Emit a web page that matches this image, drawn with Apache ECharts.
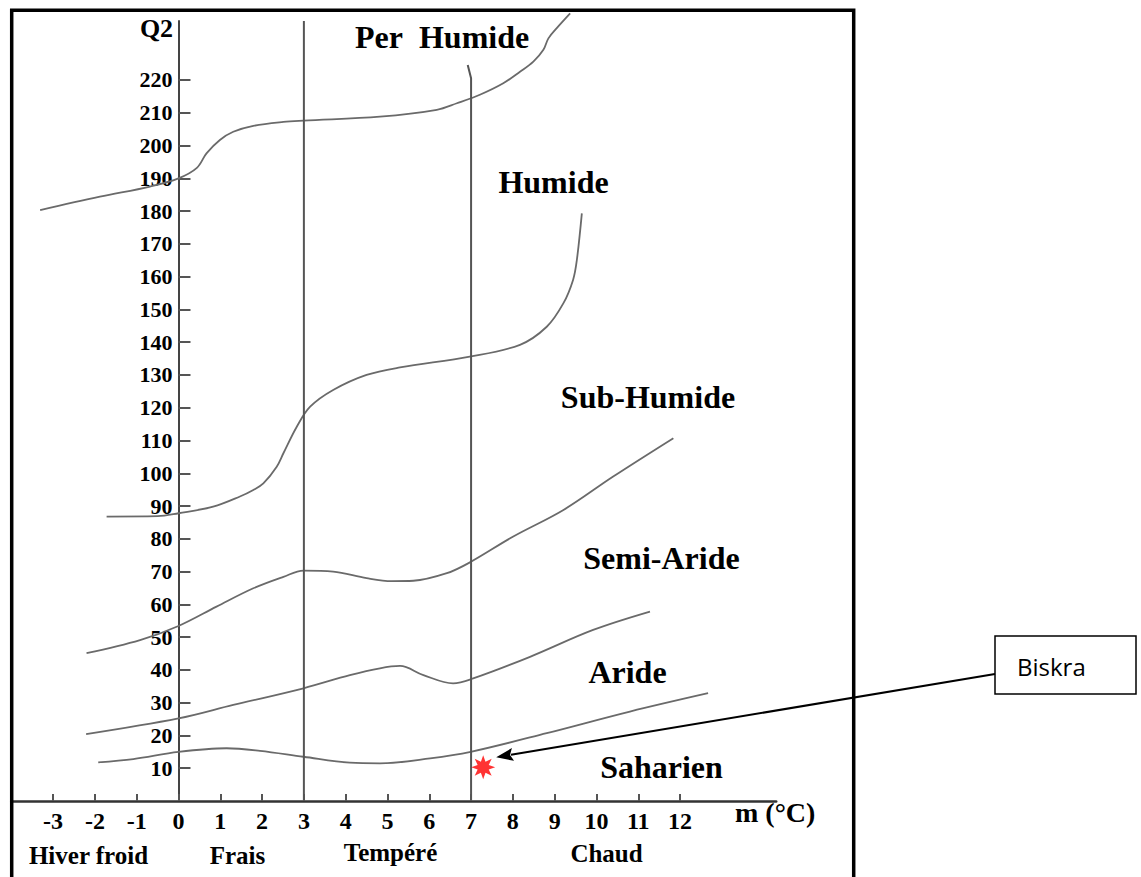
<!DOCTYPE html>
<html><head><meta charset="utf-8">
<script src="https://cdn.jsdelivr.net/npm/echarts@6/dist/echarts.min.js"></script>
<style>html,body{margin:0;padding:0;background:#fff}#c{width:1141px;height:877px}</style>
</head><body><div id="c"></div>
<script>
// ---- data (m in °C, Q2) ----
const xTicks = [-3,-2,-1,0,1,2,3,4,5,6,7,8,9,10,11,12];
const yTicks = [10,20,30,40,50,60,70,80,90,100,110,120,130,140,150,160,170,180,190,200,210,220];
const limitPerHumide = [[-3.31,180.3],[-1.88,184.4],[-0.68,187.5],[0,190],[0.44,193.2],[0.67,197.6],[0.99,201.7],[1.31,204.2],[1.79,206],[2.51,207.2],[2.99,207.6],[4.82,208.8],[6.18,210.9],[6.66,212.9],[7.21,215.5],[7.77,219],[8.17,222.5],[8.49,225.6],[8.73,229.2],[8.85,232.7],[9.05,235.8],[9.37,240.3]];
const limitHumide = [[-1.72,86.8],[-0.5,86.9],[0,87.8],[0.83,89.8],[1.47,92.9],[1.79,94.9],[2.03,96.9],[2.35,102],[2.51,106.1],[2.83,114.2],[3.15,120.3],[3.7,125.4],[4.5,130],[5.3,132.3],[6.97,135.6],[8.17,139.2],[8.81,144.7],[9.21,151.9],[9.44,159],[9.53,165],[9.65,179.3]];
const limitSubHumide = [[-2.2,45.1],[-0.92,49.1],[0,53.4],[0.91,59.3],[1.79,64.9],[2.51,68.4],[2.99,70.3],[3.7,70],[4.5,68],[5.1,67.1],[5.62,67.2],[6.42,69.5],[6.97,72.8],[8.01,80.7],[9.21,88.8],[10.4,99],[11.84,110.7]];
const limitSemiAride = [[-2.21,20.4],[0,25.2],[1.31,29.3],[2.99,34.4],[4.1,38.4],[4.82,40.5],[5.3,41.2],[5.86,38.4],[6.57,35.9],[7.05,37.4],[8.41,44],[9.92,52.2],[11.28,57.8]];
const limitAride = [[-1.92,11.8],[-1.08,12.8],[0,15],[1.15,16.1],[1.95,15.3],[2.99,13.5],[4.1,11.7],[4.82,11.5],[6.02,13],[6.99,15],[8.81,20.7],[10.8,27.3],[12.67,32.9]];
const winterFraisTempere = [[3,0],[3,238]];
const winterTempereChaud = [[7,0],[7,220.5],[6.92,224.6]];
const biskra = [7.29, 10.3];
const regionNames = ['Per\u00a0 Humide','Humide','Sub-Humide','Semi-Aride','Aride','Saharien'];
const winterNames = ['Hiver froid','Frais','Tempéré','Chaud'];

const SERIF = '"Liberation Serif", "Times New Roman", serif';
const X_MIN = -4, X_MAX = 14.3, GRID_LEFT = 11.3, GRID_RIGHT = 364.8;
const plotW = 1141 - GRID_LEFT - GRID_RIGHT;
const yAxisOffset = -(0 - X_MIN) / (X_MAX - X_MIN) * plotW; // put y axis at m = 0
function starPath(n){
  let d = '';
  for (let i = 0; i < 2*n; i++){
    const a = i*Math.PI/n - Math.PI/2;
    const r = i%2 ? 0.5 : 1;
    d += (i ? 'L' : 'M') + (r*Math.cos(a)).toFixed(3) + ',' + (r*Math.sin(a)).toFixed(3);
  }
  return 'path://' + d + 'Z';
}
const curveStyle = {color:'#6a6a6a', width:1.8};
function curve(name, data, clip){
  return {name, type:'line', data, showSymbol:false, smooth:0.35, clip: clip !== false, lineStyle:curveStyle, silent:true, z:2};
}
const chart = echarts.init(document.getElementById('c'), null, {renderer:'svg'});
chart.setOption({
  animation:false,
  backgroundColor:'#fff',
  grid:{left:GRID_LEFT, right:GRID_RIGHT, top:21, bottom:76, containLabel:false, outerBoundsMode:'none'},
  xAxis:{type:'value', min:X_MIN, max:X_MAX, interval:1,
    axisLine:{onZero:false, lineStyle:{color:'#333', width:2.5}},
    axisTick:{inside:true, length:7, customValues:xTicks, lineStyle:{color:'#555', width:2}},
    axisLabel:{customValues:xTicks, margin:8, fontSize:24, fontWeight:'bold', fontFamily:SERIF, color:'#000'},
    splitLine:{show:false}},
  yAxis:{type:'value', min:0, max:238, interval:10, position:'left', offset:yAxisOffset,
    axisLine:{onZero:false, lineStyle:{color:'#444', width:2}},
    axisTick:{inside:true, length:12, customValues:yTicks, lineStyle:{color:'#555', width:2}},
    axisLabel:{customValues:yTicks, margin:6, fontSize:22, fontWeight:'bold', fontFamily:SERIF, color:'#000'},
    splitLine:{show:false}},
  series:[
    curve('Per Humide / Humide', limitPerHumide, false),
    curve('Humide / Sub-Humide', limitHumide),
    curve('Sub-Humide / Semi-Aride', limitSubHumide),
    curve('Semi-Aride / Aride', limitSemiAride),
    curve('Aride / Saharien', limitAride),
    {name:'m = 3', type:'line', data:winterFraisTempere, showSymbol:false, lineStyle:{color:'#555', width:2}, silent:true},
    {name:'m = 7', type:'line', data:winterTempereChaud, showSymbol:false, lineStyle:{color:'#555', width:2}, silent:true},
    {name:'Biskra', type:'scatter', data:[biskra], symbol:starPath(8), symbolSize:24, itemStyle:{color:'#ff0000'}, z:5}
  ]
});

const p = chart.convertToPixel({gridIndex:0}, biskra);
const tip = [p[0]+13, p[1]-10];
const start = [995, 674];
const dx = tip[0]-start[0], dy = tip[1]-start[1], L = Math.hypot(dx,dy);
const ux = dx/L, uy = dy/L, nx = -uy, ny = ux;
const base = [tip[0]-ux*17, tip[1]-uy*17];
function txt(text, x, y, size, align){
  return {type:'text', x, y, z:10, style:{text, fontSize:size, fontWeight:'bold', fontFamily:SERIF, fill:'#000', textAlign:align||'center', textVerticalAlign:'middle'}};
}
chart.setOption({graphic:[
  {type:'rect', shape:{x:11.7, y:10.3, width:842, height:900}, style:{fill:'none', stroke:'#000', lineWidth:3.5}, z:20},
  {type:'rect', shape:{x:995, y:636, width:141, height:58}, style:{fill:'#fff', stroke:'#000', lineWidth:1.5}, z:20},
  {type:'text', x:1017, y:666, z:21, style:{text:'Biskra', fontSize:24, fontFamily:'"Open Sans", sans-serif', fill:'#000', textAlign:'left', textVerticalAlign:'middle'}},
  {type:'line', shape:{x1:start[0], y1:start[1], x2:base[0]+ux*2, y2:base[1]+uy*2}, style:{stroke:'#000', lineWidth:2}, z:21},
  {type:'polygon', shape:{points:[tip, [base[0]+nx*6.5, base[1]+ny*6.5], [base[0]+ux*3, base[1]+uy*3], [base[0]-nx*6.5, base[1]-ny*6.5]]}, style:{fill:'#000'}, z:21},
  txt('Q2', 156.5, 28, 26),
  txt(regionNames[0], 355, 37, 32, 'left'),
  txt(regionNames[1], 553.5, 182, 32),
  txt(regionNames[2], 648, 397, 32),
  txt(regionNames[3], 661.5, 558, 32),
  txt(regionNames[4], 627.5, 672, 32),
  txt(regionNames[5], 661.5, 767, 32),
  txt('m (°C)', 735, 812, 28, 'left'),
  txt(winterNames[0], 88.5, 855, 25),
  txt(winterNames[1], 237.5, 855, 25),
  txt(winterNames[2], 390.5, 852, 25),
  txt(winterNames[3], 606.5, 853, 25)
]});
</script>
</body></html>
